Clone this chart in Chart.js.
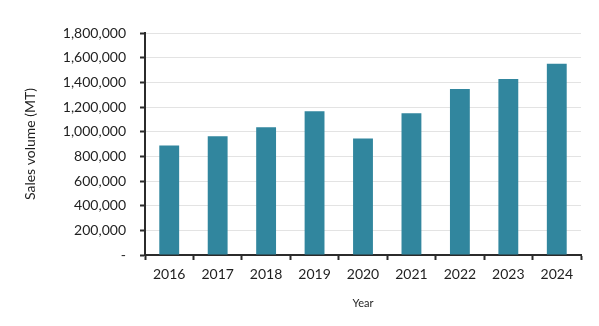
<!DOCTYPE html>
<html>
<head>
<meta charset="utf-8">
<script src="https://cdn.jsdelivr.net/npm/chart.js@4.4.1/dist/chart.umd.min.js"></script>
<style>
  html, body { margin: 0; padding: 0; background: #fff; }
  #wrap { width: 599px; height: 326px; }
</style>
</head>
<body>
<div id="wrap"><canvas id="salesChart" width="599" height="326"></canvas></div>
<script>
// yearly sales volume, metric tonnes
const years = ["2016", "2017", "2018", "2019", "2020", "2021", "2022", "2023", "2024"];
const salesVolume = [887000, 962000, 1035000, 1166000, 945000, 1150000, 1346000, 1428000, 1550000];
const yMax = 1800000;
const yStep = 200000;

const axisColor = "#2b2b2b";
const textColor = "#1f1f1f";
const font = "Lato";

new Chart(document.getElementById("salesChart"), {
  type: "bar",
  data: {
    labels: years,
    datasets: [{
      label: "Sales volume",
      data: salesVolume,
      backgroundColor: "#31869e",
      barPercentage: 0.41,
      categoryPercentage: 1
    }]
  },
  options: {
    responsive: false,
    animation: false,
    layout: { padding: { top: 33, right: 18, bottom: 12, left: 18 } },
    plugins: {
      legend: { display: false },
      tooltip: { enabled: false }
    },
    scales: {
      x: {
        grid: {
          offset: true,
          drawOnChartArea: false,
          tickLength: 5,
          tickColor: axisColor,
          tickWidth: 2
        },
        border: { color: axisColor, width: 2 },
        ticks: { color: textColor, padding: 6, font: { family: font, size: 14 } },
        title: {
          display: true,
          text: "Year",
          color: textColor,
          padding: { top: 8 },
          font: { family: font, size: 11 }
        }
      },
      y: {
        min: 0,
        max: yMax,
        afterFit: s => { s.width = 127; },
        grid: {
          color: "#e3e3e3",
          lineWidth: 1,
          tickLength: 5,
          tickColor: axisColor,
          tickWidth: 2
        },
        border: { color: axisColor, width: 2 },
        ticks: {
          stepSize: yStep,
          color: textColor,
          padding: 14,
          font: { family: font, size: 14 },
          callback: v => v === 0 ? "-" : v.toLocaleString("en-US")
        },
        title: {
          display: true,
          text: "Sales volume (MT)",
          color: textColor,
          font: { family: font, size: 14 }
        }
      }
    }
  }
});
</script>
</body>
</html>
